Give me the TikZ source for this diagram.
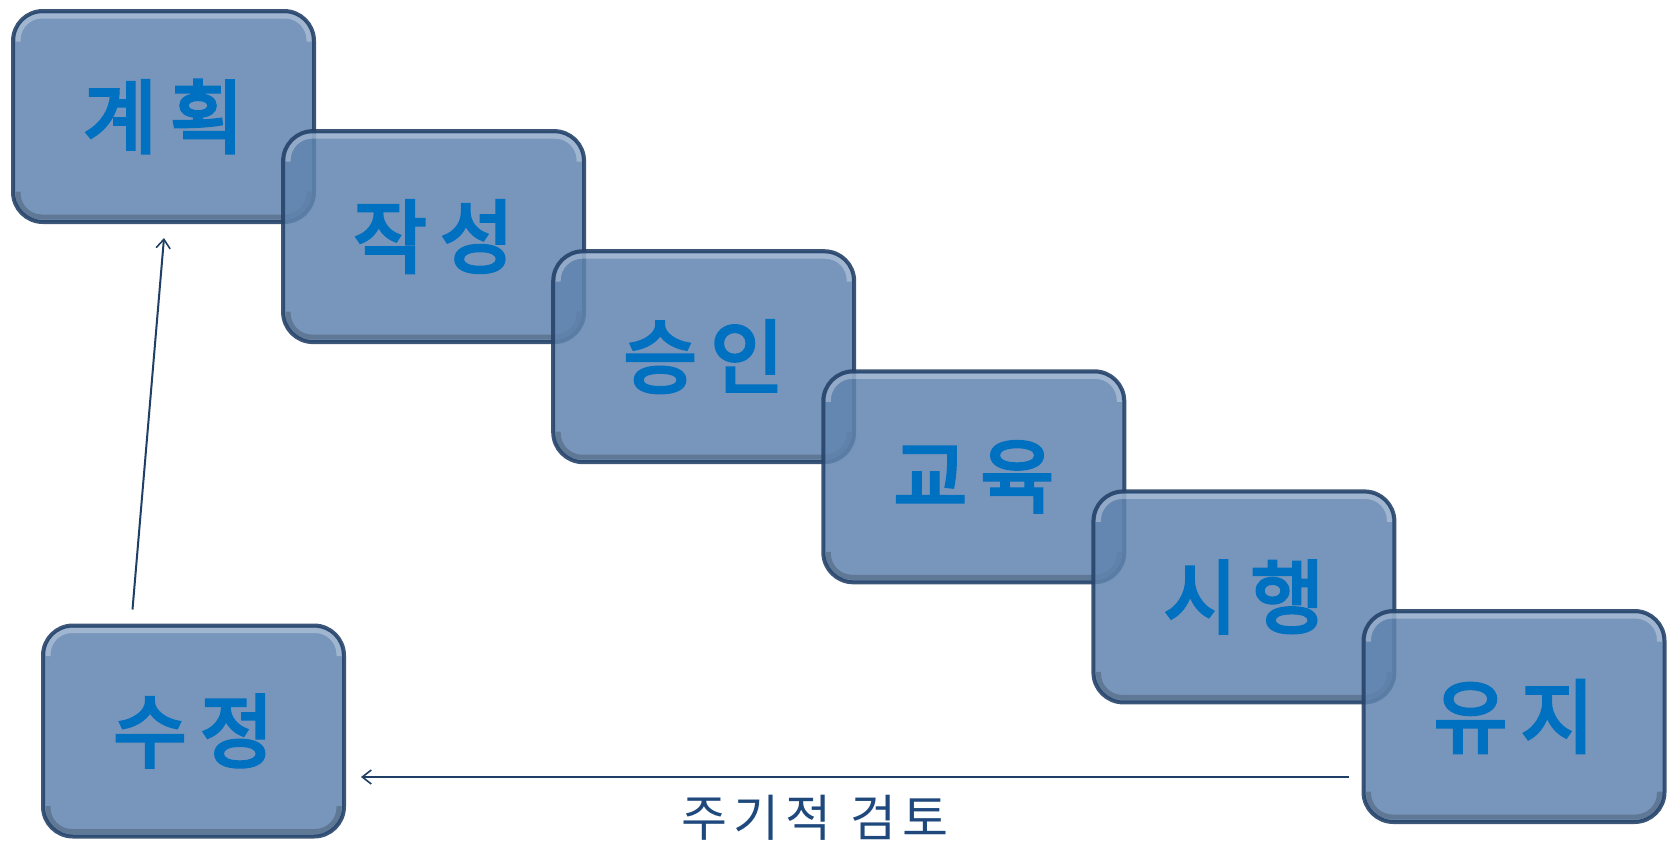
\documentclass[tikz,border=0pt]{standalone}
\usepackage{fontspec}
\newfontfamily\kr{Noto Sans CJK KR}
\newfontfamily\krb[FakeBold=4]{Noto Sans CJK KR}
\usetikzlibrary{arrows.meta,calc}
\definecolor{boxfill}{HTML}{6084AF}
\definecolor{boxline}{HTML}{27446B}
\definecolor{txt}{HTML}{0070C0}
\definecolor{arr}{HTML}{1F3F66}
\definecolor{lbl}{HTML}{1F497D}
\tikzset{
 stepbox/.style={draw=boxline, line width=4pt, fill=boxfill, fill opacity=0.85, draw opacity=0.9, text opacity=1,
   rounded corners=30pt, minimum width=301pt, minimum height=211pt, inner sep=0pt,
   font=\krb\fontsize{80}{90}\selectfont, text=txt},
 hl/.style={draw=white, opacity=0.3, line width=5pt, rounded corners=24pt},
 sh/.style={draw=black, opacity=0.2, line width=5pt, rounded corners=24pt},
 conn/.style={draw=arr, line width=2pt, -{Straight Barb[length=9pt,width=14pt,line width=1.6pt]}},
 lab/.style={font=\kr\fontsize{50}{60}\selectfont, text=lbl},
}
\newcommand\mybevel[1]{%
  \draw[hl] ($(#1.west)+(7pt,75pt)$) |- ($(#1.north)+(0,-7pt)$) -| ($(#1.east)+(-7pt,75pt)$);
  \draw[sh] ($(#1.west)+(7pt,-75pt)$) |- ($(#1.south)+(0,7pt)$) -| ($(#1.east)+(-7pt,-75pt)$);
}
\newcommand\steptext[1]{\raisebox{-5pt}{#1}}
\begin{document}
\begin{tikzpicture}[x=1pt,y=1pt]
\useasboundingbox (0,0) rectangle (1669,-844);
\node[stepbox] (gh) at (163.5,-116.5) {\steptext{계\,획}}; \mybevel{gh}
\node[stepbox] (js) at (433.6,-236.6) {\steptext{작\,성}}; \mybevel{js}
\node[stepbox] (si) at (703.7,-356.7) {\steptext{승\,인}}; \mybevel{si}
\node[stepbox] (gy) at (973.8,-476.8) {\steptext{교\,육}}; \mybevel{gy}
\node[stepbox] (sh) at (1243.9,-596.9) {\steptext{시\,행}}; \mybevel{sh}
\node[stepbox] (yj) at (1514,-716.5) {\steptext{유\,지}}; \mybevel{yj}
\node[stepbox] (sj) at (193.5,-731) {\steptext{수\,정}}; \mybevel{sj}
\draw[conn] ($(sj.north)+(-61,14)$) -- ($(gh.south)+(0.5,-14)$);
\draw[conn] ($(yj.west)+(-13,-60.5)$) -- ($(sj.east)+(15,-46)$);
\node[lab] (lb) at (815,-818) {주\kern6pt 기\kern6pt 적\ \kern8pt 검\kern6pt 토};
\end{tikzpicture}
\end{document}
